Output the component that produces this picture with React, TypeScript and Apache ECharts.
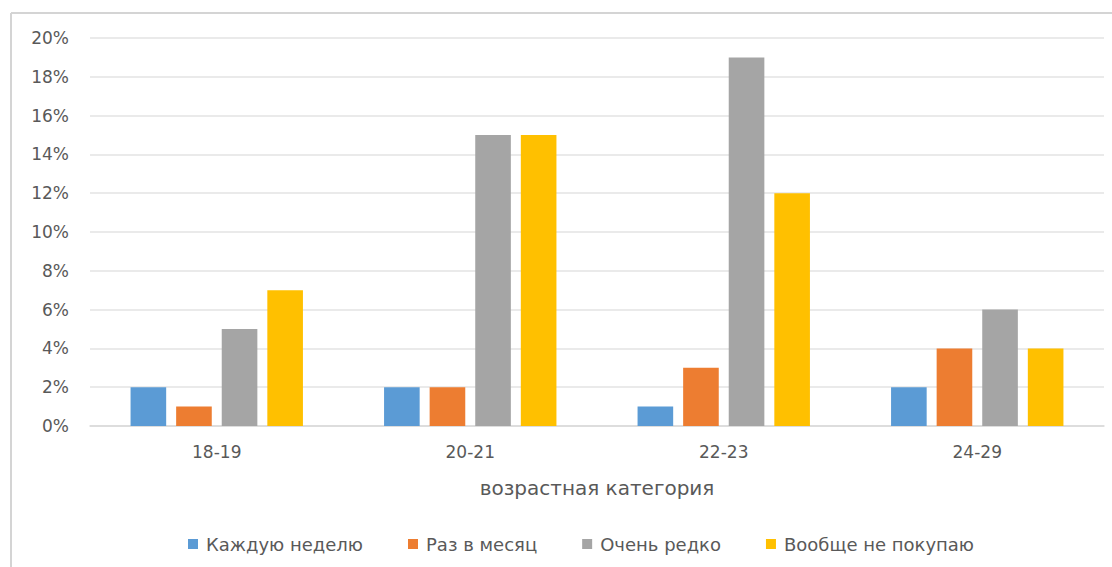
import React, { useEffect, useRef } from "react";
import * as echarts from "echarts";

const categories = ["18-19", "20-21", "22-23", "24-29"];
const seriesNames = ["Каждую неделю", "Раз в месяц", "Очень редко", "Вообще не покупаю"];
const weekly = [2, 2, 1, 2];
const monthly = [1, 2, 3, 4];
const rarely = [5, 15, 19, 6];
const never = [7, 15, 12, 4];
const colors = ["#5B9BD5", "#ED7D31", "#A5A5A5", "#FFC000"];

const FONT = "'DejaVu Sans', 'Liberation Sans', sans-serif";

export default function App() {
  const ref = useRef<HTMLDivElement>(null);
  useEffect(() => {
    if (!ref.current) return;
    const chart = echarts.init(ref.current, undefined, { renderer: "svg" });
    const values = [weekly, monthly, rarely, never];
    chart.setOption({
      animation: false,
      backgroundColor: "#ffffff",
      textStyle: { fontFamily: FONT },
      grid: { left: 90, right: 8, top: 38, bottom: 141, containLabel: false },
      legend: {
        top: 530,
        left: 183,
        itemWidth: 10,
        itemHeight: 10,
        itemGap: 45,
        icon: "rect",
        textStyle: { color: "#595959", fontSize: 18, fontFamily: FONT, padding: [0, 0, 0, 3] },
        data: seriesNames,
      },
      xAxis: {
        type: "category",
        data: categories,
        name: "возрастная категория",
        nameLocation: "middle",
        nameGap: 52,
        nameTextStyle: { color: "#595959", fontSize: 20, fontFamily: FONT },
        axisLine: { lineStyle: { color: "#d9d9d9", width: 1.5 } },
        axisTick: { show: false },
        axisLabel: { color: "#595959", fontSize: 17, margin: 17, fontFamily: FONT },
      },
      yAxis: {
        type: "value",
        min: 0,
        max: 20,
        interval: 2,
        axisLine: { show: false },
        axisTick: { show: false },
        splitLine: { lineStyle: { color: "#e3e3e3", width: 1.5 } },
        axisLabel: {
          color: "#595959",
          fontSize: 17,
          margin: 21,
          fontFamily: FONT,
          formatter: (v: number) => v + "%",
        },
      },
      series: seriesNames.map((name, i) => ({
        name,
        type: "bar",
        data: values[i],
        barGap: "28%",
        barCategoryGap: "32%",
        itemStyle: { color: colors[i] },
      })),
      graphic: [
        {
          type: "line",
          shape: { x1: 11, y1: 13, x2: 1112, y2: 13 },
          style: { stroke: "#d4d4d4", lineWidth: 2 },
        },
        {
          type: "line",
          shape: { x1: 11, y1: 13, x2: 11, y2: 567 },
          style: { stroke: "#d4d4d4", lineWidth: 2 },
        },
      ],
    });
    return () => chart.dispose();
  }, []);
  return (
    <div
      ref={ref}
      style={{ position: "fixed", left: 0, top: 0, width: 1112, height: 567 }}
    />
  );
}
